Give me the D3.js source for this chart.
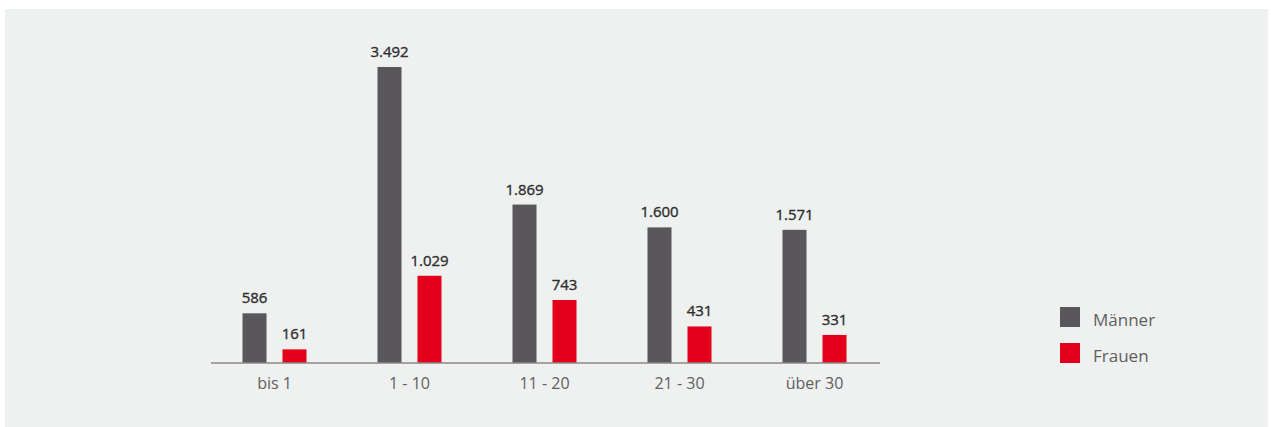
<!DOCTYPE html>
<html>
<head>
<meta charset="utf-8">
<script src="https://cdn.jsdelivr.net/npm/d3@7"></script>
<style>
  body { margin: 0; background: #fff; }
  svg text { font-family: "Open Sans", sans-serif; }
</style>
</head>
<body>
<div id="chart"></div>
<script>
// Data
const categories = ["bis 1", "1 - 10", "11 - 20", "21 - 30", "über 30"];
const series = ["Männer", "Frauen"];
const maenner = [586, 3492, 1869, 1600, 1571];
const frauen = [161, 1029, 743, 431, 331];
const colors = ["#59575a", "#e2001a"];

const width = 1271, height = 427;

const svg = d3.select("#chart").append("svg")
    .attr("width", width)
    .attr("height", height);

// background panel
svg.append("rect")
    .attr("x", 5).attr("y", 9)
    .attr("width", 1263).attr("height", 418)
    .attr("fill", "#eff0f0");

const baseline = 363;

const x = d3.scaleBand()
    .domain(categories)
    .range([207, 882]);

const xInner = d3.scaleBand()
    .domain(series)
    .range([-32, 32])
    .paddingInner(0.4);

const y = d3.scaleLinear()
    .domain([0, 3492])
    .range([baseline, 67]);

const de = d3.formatLocale({ decimal: ",", thousands: ".", grouping: [3], currency: ["", "€"] });
const fmt = de.format(",d");

const rows = categories.map((c, i) => ({ cat: c, values: [maenner[i], frauen[i]] }));

const groups = svg.selectAll("g.group")
    .data(rows)
    .join("g")
    .attr("class", "group")
    .attr("transform", d => `translate(${x(d.cat) + x.bandwidth() / 2},0)`);

groups.selectAll("rect")
    .data(d => d.values.map((v, i) => ({ s: series[i], v: v, i: i })))
    .join("rect")
    .attr("x", d => xInner(d.s))
    .attr("width", xInner.bandwidth())
    .attr("y", d => y(d.v))
    .attr("height", d => baseline - y(d.v))
    .attr("fill", d => colors[d.i]);

// value labels (slight stroke to get a medium weight)
groups.selectAll("text.val")
    .data(d => d.values.map((v, i) => ({ s: series[i], v: v })))
    .join("text")
    .attr("class", "val")
    .attr("x", d => xInner(d.s) + xInner.bandwidth() / 2)
    .attr("y", d => y(d.v) - 10)
    .attr("text-anchor", "middle")
    .attr("font-size", "15px")
    .attr("fill", "#2e2e2e")
    .attr("stroke", "#2e2e2e")
    .attr("stroke-width", 0.35)
    .text(d => fmt(d.v));

// x axis
const xAxis = d3.axisBottom(x).tickSize(0).tickPadding(15);
const axisG = svg.append("g")
    .attr("transform", `translate(0,${baseline})`)
    .call(xAxis);

axisG.select(".domain")
    .attr("d", "M211,0H880")
    .attr("stroke", "#8a8a8a")
    .attr("stroke-width", 1.5);

axisG.selectAll("text")
    .attr("font-size", "16px")
    .attr("fill", "#5f5f5f")
    .style("font-family", "'Open Sans', sans-serif");

// legend
const legend = svg.append("g")
    .attr("transform", "translate(1060,307)");

const li = legend.selectAll("g")
    .data(series)
    .join("g")
    .attr("transform", (d, i) => `translate(0,${i * 36})`);

li.append("rect")
    .attr("width", 20).attr("height", 20)
    .attr("fill", (d, i) => colors[i]);

li.append("text")
    .attr("x", 33).attr("y", 19)
    .attr("font-size", "17px")
    .attr("fill", "#5f5f5f")
    .text(d => d);
</script>
</body>
</html>
